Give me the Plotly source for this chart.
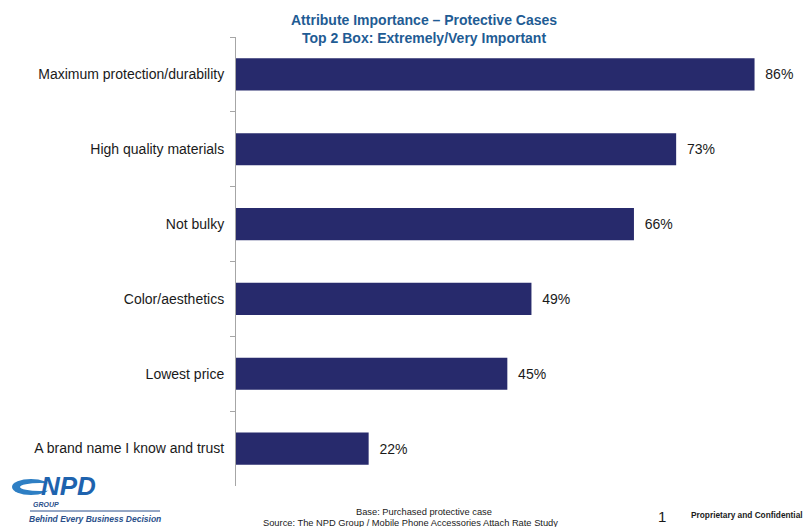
import plotly.graph_objects as go

categories = ["Maximum protection/durability", "High quality materials", "Not bulky",
              "Color/aesthetics", "Lowest price", "A brand name I know and trust"]
values = [86, 73, 66, 49, 45, 22]
labels = [f"  {v}%" for v in values]

W, H = 807, 527
fig = go.Figure(go.Bar(
    x=values, y=categories, orientation="h",
    marker=dict(color="#272A6C", line=dict(width=0)),
    width=0.43,
    text=labels, textposition="outside", cliponaxis=False,
    textfont=dict(family="Liberation Sans, Arial", size=14, color="#1a1a1a"),
))

fig.update_layout(
    width=W, height=H, margin=dict(l=236, r=0, t=37, b=41),
    paper_bgcolor="white", plot_bgcolor="white", showlegend=False,
    bargap=0.57,
    font=dict(family="Liberation Sans, Arial", size=14, color="#1a1a1a"),
)
fig.update_xaxes(range=[0, 94.7], visible=False)
fig.update_yaxes(autorange="reversed", showline=True, linecolor="#A6A6A6", linewidth=1,
                 ticks="outside", tickson="boundaries", ticklen=5, tickcolor="#A6A6A6",
                 ticklabelstandoff=8, showgrid=False,
                 tickfont=dict(family="Liberation Sans, Arial", size=14, color="#1a1a1a"))

title_font = dict(family="Liberation Sans, Arial", size=14, color="#1F5C94")
fig.add_annotation(xref="paper", yref="paper", xanchor="center", yanchor="top",
                   x=(424-236)/(W-236), y=1 + (37-10)/(H-78),
                   text="<b>Attribute Importance – Protective Cases<br>Top 2 Box: Extremely/Very Important</b>",
                   showarrow=False, font=title_font, align="center")

def px(x):
    return (x-236)/(W-236)

def py(y):
    return (H-41-y)/(H-78)

def pa(x, y, text, size, color="#1a1a1a", anchor="center", bold=False, italic=False,
       family="Liberation Sans, Arial"):
    t = text
    if bold: t = f"<b>{t}</b>"
    if italic: t = f"<i>{t}</i>"
    fig.add_annotation(xref="paper", yref="paper", x=px(x), y=py(y),
                       xanchor=anchor, yanchor="middle", text=t, showarrow=False,
                       font=dict(family=family, size=size, color=color))

pa(424, 512, "Base: Purchased protective case", 9.3)
pa(410, 523, "Source: The NPD Group / Mobile Phone Accessories Attach Rate Study", 9.3)
pa(662, 516, "1", 15)
pa(689, 515, "Proprietary and Confidential", 8.3, anchor="left", bold=True)

# logo
fig.add_shape(type="circle", xref="paper", yref="paper",
              x0=px(12), x1=px(50), y0=py(495), y1=py(479),
              fillcolor="#2E7FC4", line=dict(width=0), layer="above")
fig.add_shape(type="circle", xref="paper", yref="paper",
              x0=px(20), x1=px(60), y0=py(491), y1=py(483),
              fillcolor="white", line=dict(width=0), layer="above")
pa(68, 486, "NPD", 26, color="#1E63AE", bold=True, italic=True)
pa(46, 505, "GROUP", 7, color="#2A4F8A", bold=True, italic=True)
pa(95, 519, "Behind Every Business Decision", 8.5, color="#2A4F8A", bold=True, italic=True)
fig.add_shape(type="line", xref="paper", yref="paper",
              x0=px(30), x1=px(160), y0=py(511), y1=py(511),
              line=dict(color="#2A4F8A", width=1))

fig.write_html("out.html")
